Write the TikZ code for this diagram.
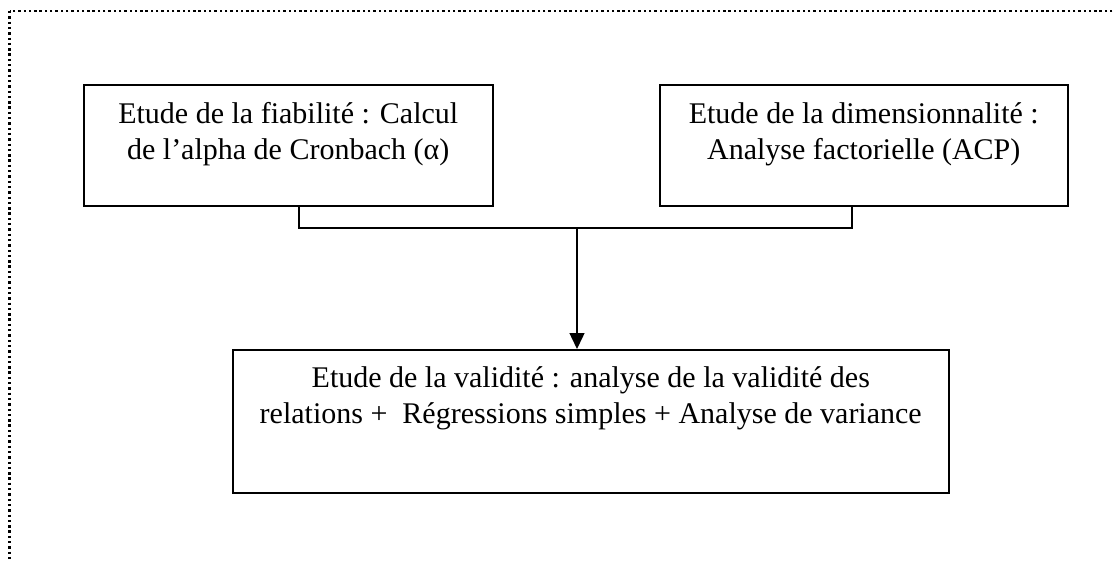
\documentclass[tikz,border=0pt]{standalone}
\usepackage{fontspec}
\setmainfont{Liberation Serif}
\usetikzlibrary{arrows.meta}
\tikzset{
  frame/.style={line width=2.2pt, dash pattern=on 2.4pt off 2.9pt},
  stagebox/.style={draw, line width=1.5pt, rectangle, inner sep=0pt, anchor=north west},
  stagetext/.style={anchor=base, align=center, inner sep=0pt, font=\fontsize{30}{35.5}\selectfont},
  link/.style={line width=1.4pt},
  flow/.style={line width=1.4pt, -{Triangle[length=16pt,width=15pt]}}
}
\begin{document}
\begin{tikzpicture}[x=1pt,y=-1pt]
\useasboundingbox (0,0) rectangle (1113,560);
\clip (0,0) rectangle (1113,560);
\draw[frame] (9.5,11) rectangle (1140,590);

\node[stagebox, minimum width=409pt, minimum height=121pt] (box1) at (83,84) {};
\node[stagebox, minimum width=408pt, minimum height=121pt] (box2) at (659,84) {};
\node[stagebox, minimum width=716pt, minimum height=143pt] (box3) at (232,349) {};

\node[stagetext] (t1) at ([yshift=-75pt]box1.north) {Etude de la fiabilité : Calcul\\de l’alpha de Cronbach (α)};
\node[stagetext] (t2) at ([yshift=-75pt]box2.north) {Etude de la dimensionnalité :\\Analyse factorielle (ACP)};
\node[stagetext] (t3) at ([yshift=-74pt]box3.north) {Etude de la validité : analyse de la validité des\\relations +\ \ Régressions simples + Analyse de variance};

\coordinate (jl) at (299,228);
\coordinate (jr) at (852,228);
\coordinate (jm) at (577,228);

\draw[link] (box1.south -| jl) -- (jl) -- (jr) -- (box2.south -| jr);
\draw[flow] (jm) -- (box3.north -| jm);
\end{tikzpicture}
\end{document}
